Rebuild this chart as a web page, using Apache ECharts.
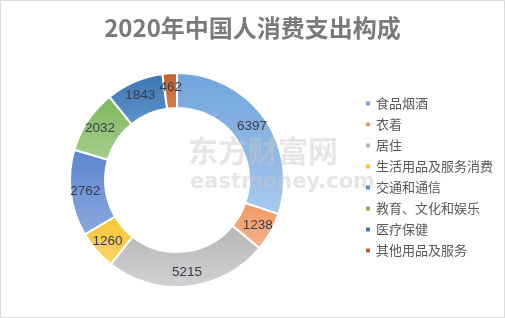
<!DOCTYPE html>
<html><head><meta charset="utf-8">
<script src="https://cdn.jsdelivr.net/npm/echarts@6/dist/echarts.min.js"></script>
<style>html,body{margin:0;padding:0;background:#fff}#c{width:505px;height:318px}</style>
</head><body><div id="c"></div>
<script>
const categories = ['食品烟酒','衣着','居住','生活用品及服务消费','交通和通信','教育、文化和娱乐','医疗保健','其他用品及服务'];
const values = [6397,1238,5215,1260,2762,2032,1843,462];
const colorsTop = ['#6fa3db','#f29a63','#b5b5b5','#f7c630','#5c86cf','#7db65a','#3d76b3','#c0622a'];
const colorsBottom = ['#a9c9ee','#f4b48c','#d2d2d2','#fbd56a','#8aa8de','#a6cf8e','#5e93c9','#d47f4a'];

const chart = echarts.init(document.getElementById('c'));
const data = categories.map((n,i)=>({name:n,value:values[i],itemStyle:{color:new echarts.graphic.LinearGradient(0,0,0,1,[{offset:0,color:colorsTop[i]},{offset:1,color:colorsBottom[i]}])}}));
chart.setOption({
  animation:false,
  title:{text:'2020年中国人消费支出构成',left:'center',top:11,textStyle:{fontSize:24,fontWeight:'bold',color:'#7a7a7a',fontFamily:'Noto Sans CJK SC'}},
  legend:{orient:'vertical',left:359,top:92,itemWidth:6,itemHeight:6,itemGap:8,icon:'rect',
    textStyle:{fontSize:13,color:'#595959',fontFamily:'Noto Sans CJK SC'},
    data:categories.map((n,i)=>({name:n,itemStyle:{color:colorsTop[i]}}))},
  series:[{type:'pie',center:[177,180],radius:[72,107],startAngle:90,clockwise:true,
    itemStyle:{borderColor:'#fff',borderWidth:2},
    label:{show:true,position:'inside',formatter:'{c}',fontSize:13.5,color:'#3a3a4a',fontFamily:'Liberation Sans'},
    labelLine:{show:false},emphasis:{disabled:true},
    data:data}],
  graphic:[
    {type:'rect',shape:{x:0.5,y:0.5,width:504,height:317},style:{fill:'none',stroke:'#dcdcdc',lineWidth:1}},
    {type:'text',left:188,top:136,z:100,style:{text:'东方财富网',font:'bold 30px "Noto Sans CJK SC"',fill:'rgba(200,200,200,0.45)'}},
    {type:'text',left:190,top:172,z:100,style:{text:'eastmoney.com',font:'bold 21px "DejaVu Sans"',fill:'rgba(200,200,200,0.45)'}}
  ]
});
</script></body></html>
